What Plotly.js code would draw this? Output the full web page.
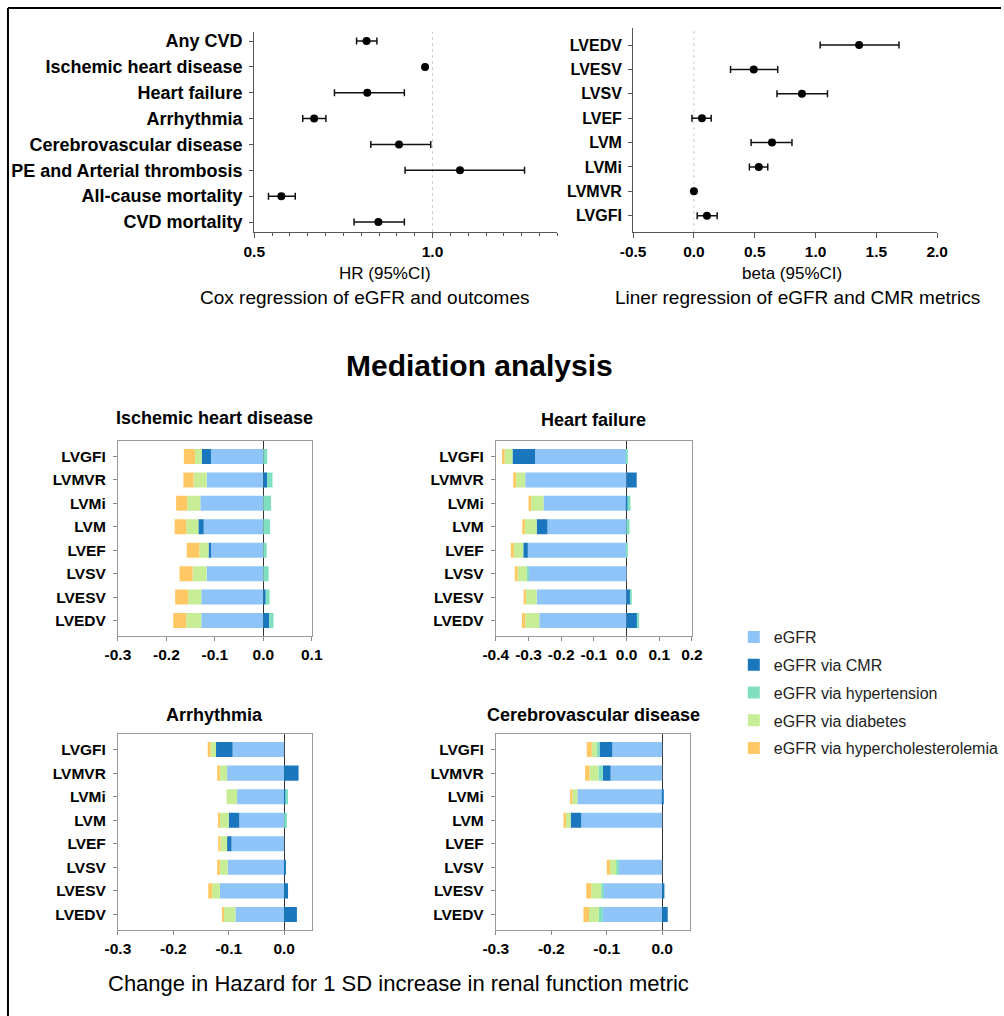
<!DOCTYPE html>
<html>
<head>
<meta charset="utf-8">
<script src="https://cdn.plot.ly/plotly-3.0.1.min.js"></script>
<style>html,body{margin:0;padding:0;background:#fff}#chart{width:1004px;height:1016px}</style>
</head>
<body>
<div id="chart"></div>
<script>
// ---------- Data ----------
const outcomes = ['Any CVD','Ischemic heart disease','Heart failure','Arrhythmia','Cerebrovascular disease','PE and Arterial thrombosis','All-cause mortality','CVD mortality'];
const hr   = [0.815, 0.979, 0.817, 0.668, 0.906, 1.077, 0.576, 0.848];
const hrLo = [0.787, 0.977, 0.725, 0.636, 0.827, 0.923, 0.540, 0.780];
const hrHi = [0.844, 0.981, 0.921, 0.701, 0.995, 1.258, 0.615, 0.921];

const cmrMetrics = ['LVEDV','LVESV','LVSV','LVEF','LVM','LVMi','LVMVR','LVGFI'];
const beta   = [1.358, 0.492, 0.888, 0.066, 0.642, 0.533, 0.000, 0.107];
const betaLo = [1.038, 0.301, 0.683, -0.016, 0.470, 0.456, -0.002, 0.027];
const betaHi = [1.686, 0.689, 1.098, 0.142, 0.806, 0.607, 0.002, 0.191];

const medMetrics = ['LVGFI','LVMVR','LVMi','LVM','LVEF','LVSV','LVESV','LVEDV'];

// Ischemic heart disease
const ihdEgfr = [-0.108,-0.117,-0.130,-0.123,-0.110,-0.117,-0.128,-0.128];
const ihdCmr  = [-0.019, 0.008, 0.000,-0.011,-0.003, 0.000, 0.005, 0.012];
const ihdHtn  = [ 0.008, 0.011, 0.016, 0.014, 0.007, 0.011, 0.008, 0.009];
const ihdDm   = [-0.014,-0.027,-0.027,-0.025,-0.019,-0.029,-0.027,-0.031];
const ihdHc   = [-0.023,-0.021,-0.023,-0.024,-0.026,-0.027,-0.027,-0.027];
// Heart failure
const hfEgfr = [-0.280,-0.310,-0.254,-0.242,-0.302,-0.302,-0.275,-0.267];
const hfCmr  = [-0.069, 0.031, 0.003,-0.033,-0.014, 0.000, 0.012, 0.034];
const hfHtn  = [ 0.001, 0.000, 0.009, 0.009, 0.002,-0.003, 0.002, 0.004];
const hfDm   = [-0.024,-0.028,-0.038,-0.036,-0.029,-0.028,-0.033,-0.043];
const hfHc   = [-0.008,-0.009,-0.008,-0.008,-0.009,-0.009,-0.007,-0.010];
// Arrhythmia
const arEgfr = [-0.093,-0.103,-0.085,-0.081,-0.095,-0.102,-0.116,-0.088];
const arCmr  = [-0.030, 0.026, 0.002,-0.019,-0.008, 0.003, 0.007, 0.023];
const arHtn  = [ 0.000, 0.000, 0.005, 0.005, 0.000, 0.000, 0.000, 0.000];
const arDm   = [-0.010,-0.013,-0.019,-0.017,-0.012,-0.014,-0.014,-0.021];
const arHc   = [-0.005,-0.005, 0.000,-0.001,-0.004,-0.005,-0.007,-0.002];
// Cerebrovascular disease (LVEF not available)
const cvEgfr = [-0.090,-0.093,-0.153,-0.146, null,-0.078,-0.105,-0.107];
const cvCmr  = [-0.023,-0.014, 0.002,-0.019, null, 0.000, 0.004, 0.010];
const cvHtn  = [-0.005,-0.008, 0.000, 0.000, null,-0.005,-0.005,-0.007];
const cvDm   = [-0.009,-0.016,-0.009,-0.010, null,-0.011,-0.018,-0.018];
const cvHc   = [-0.009,-0.008,-0.004,-0.003, null,-0.006,-0.009,-0.010];

const componentNames = ['eGFR','eGFR via CMR','eGFR via hypertension','eGFR via diabetes','eGFR via hypercholesterolemia'];
const componentColors = ['#8EC4F8','#1A77BE','#7FDFC0','#C7EE97','#FFC865'];

const panelTitles = ['Ischemic heart disease','Heart failure','Arrhythmia','Cerebrovascular disease'];
const ihdTicks = [-0.3,-0.2,-0.1,0.0,0.1];
const hfTicks  = [-0.4,-0.3,-0.2,-0.1,0.0,0.1,0.2];
const arTicks  = [-0.3,-0.2,-0.1,0.0];
const cvTicks  = [-0.3,-0.2,-0.1,0.0];
const hrTicks  = [0.5,1.0];
const betaTicks = [-0.5,0.0,0.5,1.0,1.5,2.0];
const HR_NULL = 1.0;
const BETA_NULL = 0.0;

// ---------- Layout helpers ----------
const W = 1004, H = 1016;
const px = v => v / W;
const py = v => 1 - v / H;
const FONT = 'Liberation Sans, Arial, Helvetica, sans-serif';
const fmt = arr => arr.map(v => v.toFixed(1));

const traces = [];
traces.push({
  type:'scatter', mode:'markers', x:hr, y:outcomes, xaxis:'x', yaxis:'y',
  marker:{color:'#000', size:8},
  error_x:{type:'data', symmetric:false,
    array: hrHi.map((h,i)=>h-hr[i]), arrayminus: hr.map((v,i)=>v-hrLo[i]),
    color:'#111', thickness:1.5, width:3.5},
  showlegend:false, hoverinfo:'x+y'
});
traces.push({
  type:'scatter', mode:'markers', x:beta, y:cmrMetrics, xaxis:'x2', yaxis:'y2',
  marker:{color:'#000', size:8},
  error_x:{type:'data', symmetric:false,
    array: betaHi.map((h,i)=>h-beta[i]), arrayminus: beta.map((v,i)=>v-betaLo[i]),
    color:'#111', thickness:1.5, width:3.5},
  showlegend:false, hoverinfo:'x+y'
});

const panels = [
  {data:[ihdEgfr,ihdCmr,ihdHtn,ihdDm,ihdHc], xa:'x3', ya:'y3'},
  {data:[hfEgfr,hfCmr,hfHtn,hfDm,hfHc], xa:'x4', ya:'y4'},
  {data:[arEgfr,arCmr,arHtn,arDm,arHc], xa:'x5', ya:'y5'},
  {data:[cvEgfr,cvCmr,cvHtn,cvDm,cvHc], xa:'x6', ya:'y6'}
];
panels.forEach((p, pi) => {
  p.data.forEach((vals, ci) => {
    traces.push({
      type:'bar', orientation:'h', x:vals, y:medMetrics, xaxis:p.xa, yaxis:p.ya,
      name:componentNames[ci], legendgroup:'c'+ci, showlegend: pi === 0,
      marker:{color:componentColors[ci], line:{width:0}},
      hovertemplate:'%{y}: %{x}<extra>'+componentNames[ci]+'</extra>'
    });
  });
});

const forestY = (cats, dom, range, fsize) => ({
  domain:dom, type:'category', categoryorder:'array', categoryarray:cats, range:range,
  ticks:'outside', ticklen:4, tickcolor:'#555', showline:true, linecolor:'#555', linewidth:1,
  showgrid:false, zeroline:false, tickfont:{size:fsize, weight:'bold', color:'#000'}, ticklabelstandoff:3,
  fixedrange:true
});
const medX = (dom, range, tv, anchor) => ({
  domain:dom, range:range, anchor:anchor, tickmode:'array', tickvals:tv, ticktext:fmt(tv),
  ticks:'outside', ticklen:4, tickcolor:'#888', showline:true, mirror:true, linecolor:'#9a9a9a', linewidth:1,
  showgrid:false, zeroline:true, zerolinecolor:'#333', zerolinewidth:1,
  tickfont:{size:15.5, weight:'bold', color:'#000'}, ticklabelstandoff:0, fixedrange:true
});
const medY = (dom, anchor) => ({
  domain:dom, anchor:anchor, type:'category', categoryorder:'array', categoryarray:medMetrics,
  range:[7.66,-0.66], ticks:'outside', ticklen:4, tickcolor:'#888', showline:true, mirror:true,
  linecolor:'#9a9a9a', linewidth:1, showgrid:false, zeroline:false,
  tickfont:{size:15.5, weight:'bold', color:'#000'}, ticklabelstandoff:4, fixedrange:true
});

const ann = (text, x, y, size, bold) => ({
  text:text, xref:'paper', yref:'paper', x:px(x), y:py(y), xanchor:'center', yanchor:'middle',
  showarrow:false, font:{size:size, family:FONT, color:'#000', weight: bold ? 'bold' : 'normal'}
});

const layout = {
  width:W, height:H, margin:{l:0,r:0,t:0,b:0},
  paper_bgcolor:'#fff', plot_bgcolor:'rgba(0,0,0,0)',
  font:{family:FONT, color:'#000'},
  barmode:'relative', bargap:0.36,
  showlegend:true,
  legend:{x:px(736), y:py(620), xanchor:'left', yanchor:'top', font:{size:16, color:'#222'},
    tracegroupgap:4, bgcolor:'rgba(0,0,0,0)', traceorder:'grouped'},
  xaxis:{domain:[px(255),px(559)], range:[0.5,1.35], anchor:'y', tickmode:'array', tickvals:hrTicks, ticktext:fmt(hrTicks),
    ticks:'outside', ticklen:5, tickcolor:'#555', showline:true, linecolor:'#555', linewidth:1,
    showgrid:false, zeroline:false, tickfont:{size:15.5, weight:'bold', color:'#000'}, fixedrange:true,
    minor:{tick0:0.5, dtick:0.05, ticks:'outside', ticklen:3, tickcolor:'#555', showgrid:false}},
  yaxis:Object.assign(forestY(outcomes, [py(232), py(32)], [7.386,-0.35], 18), {anchor:'x'}),
  xaxis2:{domain:[px(635),px(940)], range:[-0.5,2.0], anchor:'y2', tickmode:'array', tickvals:betaTicks, ticktext:fmt(betaTicks),
    ticks:'outside', ticklen:5, tickcolor:'#555', showline:true, linecolor:'#555', linewidth:1,
    showgrid:false, zeroline:false, tickfont:{size:15.5, weight:'bold', color:'#000'}, fixedrange:true},
  yaxis2:Object.assign(forestY(cmrMetrics, [py(232), py(28)], [7.67,-0.70], 16), {anchor:'x2'}),
  xaxis3:medX([px(118.3),px(312.7)], [-0.3,0.1], ihdTicks, 'y3'),
  yaxis3:medY([py(636),py(441)], 'x3'),
  xaxis4:medX([px(497.3),px(694)], [-0.4,0.2], hfTicks, 'y4'),
  yaxis4:medY([py(636),py(441)], 'x4'),
  xaxis5:medX([px(118.3),px(312.8)], [-0.3,0.05], arTicks, 'y5'),
  yaxis5:medY([py(930),py(734)], 'x5'),
  xaxis6:medX([px(497.3),px(692)], [-0.3,0.05], cvTicks, 'y6'),
  yaxis6:medY([py(930),py(734)], 'x6'),
  shapes:[
    {type:'line', xref:'x', yref:'y domain', x0:HR_NULL, x1:HR_NULL, y0:0, y1:1, layer:'below',
     line:{color:'#cfcfcf', width:1, dash:'dot'}},
    {type:'line', xref:'x2', yref:'y2 domain', x0:BETA_NULL, x1:BETA_NULL, y0:0, y1:1, layer:'below',
     line:{color:'#cfcfcf', width:1, dash:'dot'}},
    {type:'line', xref:'paper', yref:'paper', x0:px(8), x1:px(8), y0:py(8), y1:0, line:{color:'#000', width:2}},
    {type:'line', xref:'paper', yref:'paper', x0:px(8), x1:1, y0:py(8), y1:py(8), line:{color:'#000', width:2}}
  ],
  annotations:[
    ann('HR (95%CI)', 386, 274, 17, false),
    ann('Cox regression of eGFR and outcomes', 366, 298, 19, false),
    ann('beta (95%CI)', 794, 274, 17, false),
    ann('Liner regression of eGFR and CMR metrics', 800, 298, 19, false),
    ann('Mediation analysis', 481, 365, 30, true),
    ann(panelTitles[0], 215, 418, 18, true),
    ann(panelTitles[1], 595, 420, 18, true),
    ann(panelTitles[2], 215, 715, 18, true),
    ann(panelTitles[3], 595, 715, 18, true),
    ann('Change in Hazard for 1 SD increase in renal function metric', 400, 983, 22, false)
  ]
};

Plotly.newPlot('chart', traces, layout, {displayModeBar:false, staticPlot:false, responsive:false});
</script>
</body>
</html>
